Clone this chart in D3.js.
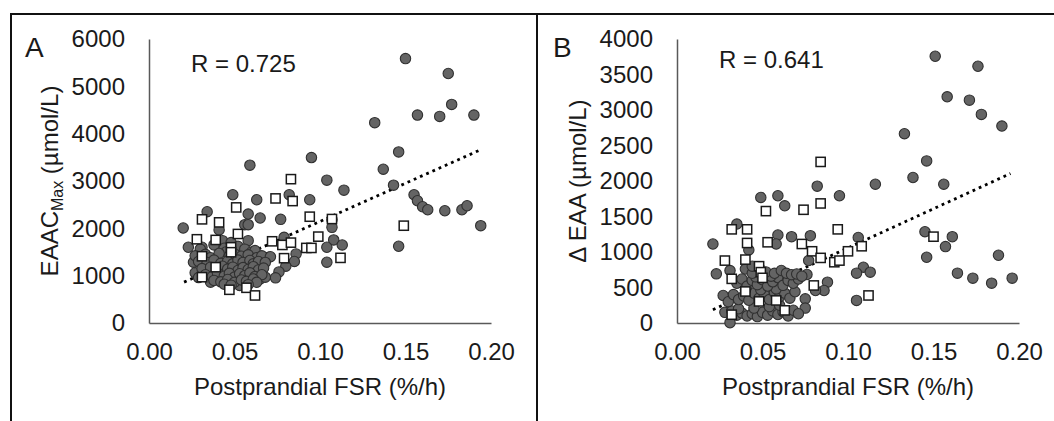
<!DOCTYPE html>
<html>
<head>
<meta charset="utf-8">
<script src="https://cdn.jsdelivr.net/npm/d3@7"></script>
<style>
  body { margin: 0; background: #fff; }
  svg text { font-family: Arial, "Liberation Sans", sans-serif; fill: #1a1a1a; }
</style>
</head>
<body>
<svg></svg>
<script>
const svg = d3.select('svg')
    .attr('width', 1054)
    .attr('height', 421)

// ---- data ----
const xTicks = [0, 0.05, 0.10, 0.15, 0.20];
const yTicksA = [0, 1000, 2000, 3000, 4000, 5000, 6000];
const yTicksB = [0, 500, 1000, 1500, 2000, 2500, 3000, 3500, 4000];

// panel A, grey circles  [FSR, EAAC max]
const aCircles = [
  [0.150,5586],[0.175,5271],[0.177,4618],[0.157,4393],[0.170,4365],[0.190,4393],[0.132,4232],
  [0.146,3614],[0.137,3249],[0.143,2912],[0.155,2709],[0.157,2583],[0.160,2456],[0.163,2393],
  [0.173,2372],[0.183,2393],[0.186,2477],[0.194,2056],[0.146,1621],
  [0.059,3334],[0.095,3495],[0.104,3018],[0.114,2807],[0.049,2709],[0.063,2604],[0.082,2709],
  [0.094,2604],[0.034,2351],[0.058,2302],[0.065,2218],[0.077,2190],[0.107,2183],[0.020,2007],
  [0.056,2077],[0.058,2077],[0.107,2021],[0.041,1965],[0.023,1600],[0.031,1600],[0.058,1740],
  [0.043,1740],[0.108,1755],[0.113,1649],[0.104,1600],[0.104,1284],[0.086,1460],[0.085,1300],
  [0.080,1200],[0.076,1080],[0.074,954],[0.079,1811],[0.026,1284],[0.027,1060],[0.029,960],
  [0.036,863],[0.065,930],[0.068,968],[0.070,1390],[0.067,1390],[0.053,793],
  // dense cluster
  [0.030,1560],[0.038,1650],[0.044,1580],[0.048,1700],[0.052,1620],[0.056,1560],[0.060,1500],
  [0.062,1530],[0.045,1500],[0.027,1420],[0.033,1450],[0.036,1380],[0.041,1470],[0.047,1420],
  [0.050,1460],[0.054,1410],[0.058,1440],[0.063,1380],[0.066,1420],[0.071,1400],[0.029,1300],
  [0.034,1280],[0.038,1330],[0.042,1260],[0.046,1310],[0.049,1250],[0.052,1330],[0.055,1280],
  [0.059,1320],[0.061,1250],[0.064,1300],[0.068,1280],[0.031,1150],[0.036,1180],[0.040,1120],
  [0.043,1200],[0.046,1140],[0.049,1180],[0.052,1110],[0.055,1170],[0.058,1130],[0.061,1190],
  [0.064,1120],[0.067,1160],[0.033,1020],[0.037,980],[0.040,1060],[0.044,990],[0.047,1050],
  [0.050,970],[0.053,1040],[0.056,1000],[0.059,1060],[0.062,980],[0.066,1020],[0.038,900],
  [0.042,870],[0.046,920],[0.050,860],[0.054,910],[0.057,880],[0.061,930],[0.063,860],
  [0.044,820],[0.048,800],[0.058,810]
];

// panel A, white squares
const aSquares = [
  [0.083,3039],[0.074,2632],[0.084,2576],[0.051,2442],[0.031,2190],[0.094,2246],[0.107,2197],
  [0.041,2126],[0.052,1881],[0.028,1769],[0.039,1755],[0.099,1825],[0.072,1726],[0.078,1649],
  [0.083,1698],[0.048,1600],[0.048,1495],[0.092,1586],[0.095,1586],[0.031,1410],[0.079,1369],
  [0.112,1376],[0.039,1179],[0.031,968],[0.047,702],[0.057,744],[0.062,582],[0.149,2056]
];

// panel B, grey circles  [FSR, delta EAA]
const bCircles = [
  [0.151,3757],[0.176,3616],[0.158,3186],[0.171,3139],[0.178,2938],[0.190,2774],[0.133,2666],
  [0.146,2283],[0.138,2049],[0.156,1955],[0.116,1955],[0.082,1927],[0.095,1792],[0.049,1768],
  [0.059,1792],[0.063,1651],[0.035,1394],[0.145,1286],[0.161,1216],[0.157,1076],[0.146,926],
  [0.188,954],[0.059,1240],[0.058,1113],[0.067,1216],[0.078,1230],[0.106,1205],[0.021,1113],
  [0.042,1029],[0.164,702],[0.173,632],[0.184,561],[0.196,632],[0.109,786],[0.105,702],
  [0.113,716],[0.105,318],[0.088,575],[0.086,458],[0.081,458],[0.075,340],[0.075,210],
  [0.076,683],[0.077,880],[0.023,692],[0.027,388],[0.031,5],[0.031,739],
  // dense cluster
  [0.028,150],[0.032,170],[0.035,110],[0.038,140],[0.041,100],[0.044,130],[0.047,90],
  [0.050,150],[0.053,110],[0.056,170],[0.059,120],[0.062,160],[0.065,100],[0.068,180],
  [0.071,130],[0.036,200],[0.045,210],[0.054,230],[0.060,250],[0.030,300],
  [0.033,400],[0.036,330],[0.039,380],[0.042,320],[0.045,420],[0.048,350],[0.051,400],
  [0.054,330],[0.057,430],[0.060,370],[0.063,420],[0.066,350],[0.069,440],[0.040,460],
  [0.049,470],[0.058,480],[0.035,560],[0.038,620],[0.041,520],[0.044,600],[0.047,540],
  [0.050,610],[0.053,520],[0.056,580],[0.059,640],[0.062,530],[0.065,600],[0.068,560],
  [0.071,620],[0.046,650],[0.055,660],[0.040,760],[0.044,700],[0.048,780],[0.052,720],
  [0.057,700],[0.061,740],[0.064,700],[0.067,680],[0.070,690],[0.073,660],[0.044,800]
];

// panel B, white squares
const bSquares = [
  [0.084,2269],[0.084,1684],[0.052,1576],[0.074,1595],[0.032,1319],[0.041,1319],[0.094,1319],
  [0.041,1127],[0.053,1137],[0.073,1113],[0.079,1010],[0.100,1010],[0.108,1081],[0.150,1216],
  [0.028,879],[0.040,893],[0.084,917],[0.092,856],[0.095,879],[0.048,800],[0.049,716],
  [0.032,622],[0.050,636],[0.080,529],[0.112,388],[0.040,444],[0.048,304],[0.058,318],
  [0.063,178],[0.032,117]
];

// dotted linear trend lines, end points
const trendA = [[0.0205, 863], [0.1945, 3670]];
const trendB = [[0.021, 187], [0.195, 2105]];

const rTextA = 'R = 0.725';
const rTextB = 'R = 0.641';

const fontSize = '24px';

// ---- frame ----
svg.append('path')
    .attr('d', 'M10,14 H1054 M11,14 V421 M537,14 V421')
    .attr('stroke', '#111')
    .attr('stroke-width', 2)
    .attr('fill', 'none');

function drawPanel(p) {
    const x = d3.scaleLinear().domain([0, 0.2]).range([p.left, p.left + 342]);
    const y = d3.scaleLinear().domain([0, p.yMax]).range([323, 39]);

    const xAxis = svg.append('g')
        .attr('transform', 'translate(0,323)')
        .call(d3.axisBottom(x).tickValues(xTicks).tickFormat(d3.format('.2f'))
            .tickSize(0).tickPadding(20));
    const yAxis = svg.append('g')
        .attr('transform', `translate(${p.left},0)`)
        .call(d3.axisLeft(y).tickValues(p.yTicks).tickFormat(d3.format('d'))
            .tickSize(0).tickPadding(24));

    [xAxis, yAxis].forEach(g => {
        g.select('.domain').attr('stroke', '#595959').attr('stroke-width', 1.5);
        g.selectAll('text')
            .style('font-size', fontSize)
            .style('font-family', 'Arial, "Liberation Sans", sans-serif')
            .attr('fill', '#1a1a1a');
    });

    // trend line
    svg.append('path')
        .datum(p.trend)
        .attr('d', d3.line().x(d => x(d[0])).y(d => y(d[1])))
        .attr('stroke', '#000')
        .attr('stroke-width', 2.8)
        .attr('stroke-dasharray', '2.8,4')
        .attr('fill', 'none');

    svg.append('g').selectAll('circle')
        .data(p.circles)
        .enter()
        .append('circle')
        .attr('cx', d => x(d[0]))
        .attr('cy', d => y(d[1]))
        .attr('r', 5.2)
        .attr('fill', '#646464')
        .attr('stroke', '#303030')
        .attr('stroke-width', 1.1);

    svg.append('g').selectAll('rect')
        .data(p.squares)
        .enter()
        .append('rect')
        .attr('x', d => x(d[0]) - 4.6)
        .attr('y', d => y(d[1]) - 4.6)
        .attr('width', 9.2)
        .attr('height', 9.2)
        .attr('fill', '#fff')
        .attr('stroke', '#1a1a1a')
        .attr('stroke-width', 1.5);

    // panel letter
    svg.append('text')
        .attr('x', p.left - 124)
        .attr('y', 57)
        .text(p.letter)
        .style('font-size', '28px');

    // R value
    svg.append('text')
        .attr('x', p.left + 42)
        .attr('y', p.rY)
        .text(p.rText)
        .style('font-size', fontSize);

    // x title
    svg.append('text')
        .attr('x', p.left + 171)
        .attr('y', 395)
        .attr('text-anchor', 'middle')
        .text('Postprandial FSR (%/h)')
        .style('font-size', fontSize);

    // y title
    const yt = svg.append('text')
        .attr('transform', `translate(${p.left - 91},181) rotate(-90)`)
        .attr('text-anchor', 'middle')
        .style('font-size', fontSize);
    p.yTitle(yt);
}

drawPanel({
    left: 149, yMax: 6000, yTicks: yTicksA,
    circles: aCircles, squares: aSquares, trend: trendA,
    letter: 'A', rText: rTextA, rY: 72,
    yTitle: t => {
        t.append('tspan').text('EAAC');
        t.append('tspan').text('Max').attr('dy', 5).style('font-size', '16px');
        t.append('tspan').text(' (µmol/L)').attr('dy', -5);
    }
});

drawPanel({
    left: 677, yMax: 4000, yTicks: yTicksB,
    circles: bCircles, squares: bSquares, trend: trendB,
    letter: 'B', rText: rTextB, rY: 68,
    yTitle: t => t.text('Δ EAA (µmol/L)')
});
</script>
</body>
</html>
